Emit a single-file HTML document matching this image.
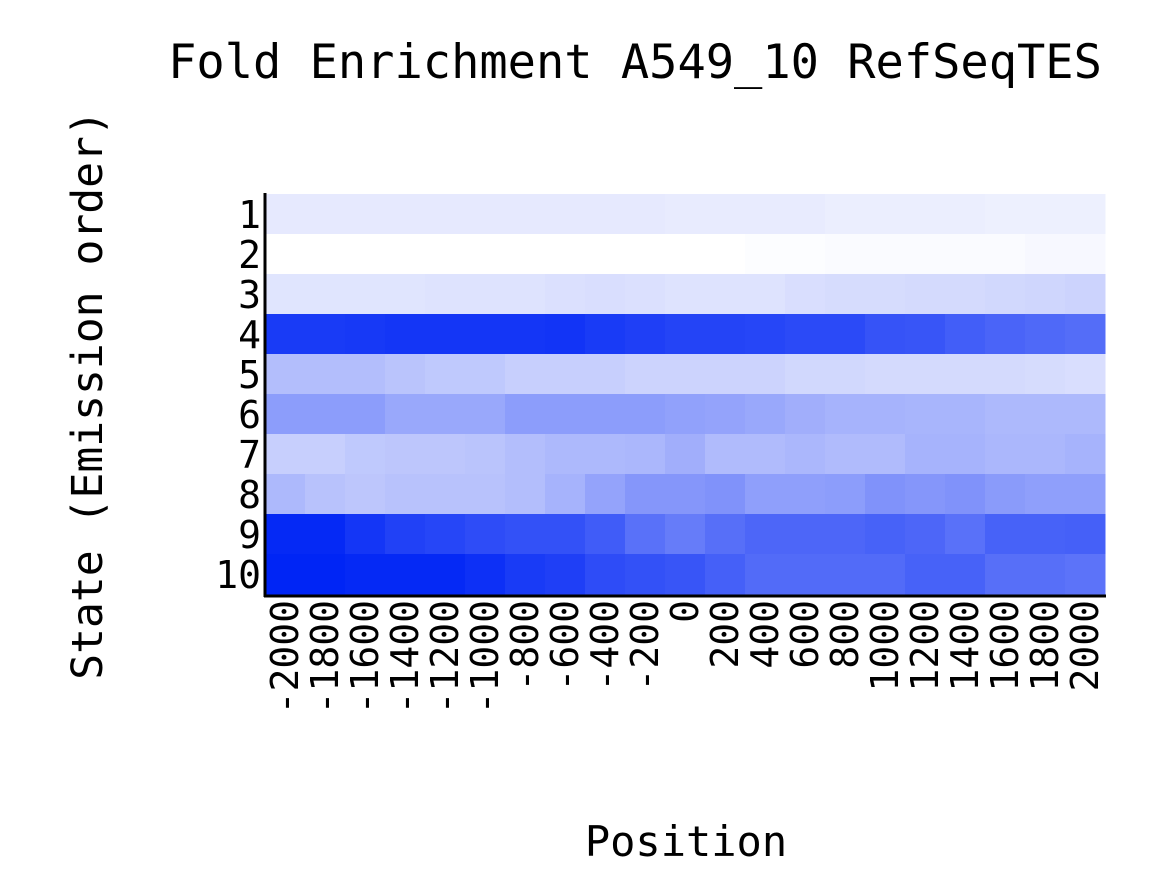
<!DOCTYPE html>
<html><head><meta charset="utf-8">
<style>
html,body{margin:0;padding:0;background:#fff;}
svg{display:block;font-family:"DejaVu Sans Mono","Liberation Mono",monospace;}
</style></head>
<body>
<svg id="chart" width="1170" height="872" viewBox="0 0 1170 872">
<text x="635" y="78" font-size="47" text-anchor="middle" fill="#000">Fold Enrichment A549_10 RefSeqTES</text>
<g id="cells"></g>
<g id="yticks"></g>
<g id="xticks"></g>
<line x1="265" y1="193" x2="265" y2="597" stroke="#000" stroke-width="3"/>
<line x1="264" y1="596" x2="1106" y2="596" stroke="#000" stroke-width="3"/>
<text x="686" y="856" font-size="42" text-anchor="middle" fill="#000">Position</text>
<text transform="translate(102,395) rotate(-90)" font-size="43" text-anchor="middle" fill="#000">State (Emission order)</text>
</svg>
<script>
const positions = ["-2000","-1800","-1600","-1400","-1200","-1000","-800","-600","-400","-200","0","200","400","600","800","1000","1200","1400","1600","1800","2000"];
const states = ["1","2","3","4","5","6","7","8","9","10"];
const row1 = [0.10,0.10,0.10,0.10,0.10,0.10,0.10,0.10,0.10,0.10,0.09,0.09,0.09,0.09,0.08,0.08,0.08,0.08,0.07,0.07,0.07];
const row2 = [0.00,0.00,0.00,0.00,0.00,0.00,0.00,0.00,0.00,0.00,0.00,0.00,0.01,0.01,0.02,0.02,0.02,0.02,0.02,0.03,0.03];
const row3 = [0.12,0.12,0.12,0.12,0.13,0.13,0.13,0.14,0.15,0.14,0.13,0.13,0.13,0.15,0.16,0.16,0.17,0.17,0.18,0.19,0.20];
const row4 = [0.90,0.90,0.91,0.92,0.92,0.92,0.92,0.93,0.90,0.88,0.86,0.86,0.85,0.83,0.83,0.79,0.78,0.74,0.71,0.69,0.67];
const row5 = [0.30,0.30,0.30,0.27,0.25,0.25,0.22,0.22,0.22,0.20,0.20,0.20,0.20,0.18,0.18,0.17,0.17,0.17,0.17,0.16,0.15];
const row6 = [0.45,0.45,0.45,0.40,0.40,0.40,0.45,0.45,0.45,0.45,0.43,0.42,0.40,0.37,0.35,0.35,0.34,0.34,0.32,0.32,0.32];
const row7 = [0.22,0.22,0.25,0.26,0.26,0.27,0.30,0.32,0.32,0.33,0.37,0.31,0.31,0.33,0.31,0.31,0.35,0.35,0.33,0.33,0.35];
const row8 = [0.32,0.28,0.26,0.28,0.28,0.28,0.30,0.35,0.42,0.48,0.48,0.50,0.44,0.44,0.45,0.50,0.48,0.50,0.46,0.44,0.44];
const row9 = [0.98,0.98,0.92,0.87,0.85,0.82,0.80,0.80,0.75,0.65,0.60,0.66,0.70,0.70,0.70,0.72,0.70,0.65,0.72,0.72,0.73];
const row10 = [1.00,1.00,0.98,0.98,0.98,0.95,0.90,0.88,0.82,0.80,0.78,0.73,0.68,0.68,0.68,0.68,0.72,0.72,0.66,0.66,0.64];
const rows = [row1,row2,row3,row4,row5,row6,row7,row8,row9,row10];

const NS = "http://www.w3.org/2000/svg";
const X0 = 265, X1 = 1105, Y0 = 194, Y1 = 594;
const cw = (X1 - X0) / positions.length, ch = (Y1 - Y0) / states.length;
function xScale(i){ return X0 + i * cw; }
function yScale(j){ return Y0 + j * ch; }
function color(v){
  const r = Math.round(255 * (1 - v)), g = Math.round(255 - 218 * v), b = Math.round(255 - 10 * v);
  return "rgb(" + r + "," + g + "," + b + ")";
}
const cells = document.getElementById("cells");
rows.forEach(function(row, j){
  row.forEach(function(v, i){
    const r = document.createElementNS(NS, "rect");
    r.setAttribute("x", xScale(i)); r.setAttribute("y", yScale(j));
    r.setAttribute("width", cw + 0.5); r.setAttribute("height", ch + 0.5);
    r.setAttribute("fill", color(v));
    
    
    cells.appendChild(r);
  });
});
const yt = document.getElementById("yticks");
states.forEach(function(s, j){
  const t = document.createElementNS(NS, "text");
  t.setAttribute("x", 261); t.setAttribute("y", yScale(j) + ch / 2 + 14);
  t.setAttribute("font-size", "38"); t.setAttribute("text-anchor", "end");
  t.textContent = s;
  
  
  yt.appendChild(t);
});
const xt = document.getElementById("xticks");
positions.forEach(function(p, i){
  const t = document.createElementNS(NS, "text");
  const cx = xScale(i) + cw / 2 + 13;
  t.setAttribute("transform", "translate(" + cx + ",600) rotate(-90)");
  t.setAttribute("font-size", "38"); t.setAttribute("text-anchor", "end");
  t.textContent = p;
  
  
  xt.appendChild(t);
});
</script>
</body></html>
